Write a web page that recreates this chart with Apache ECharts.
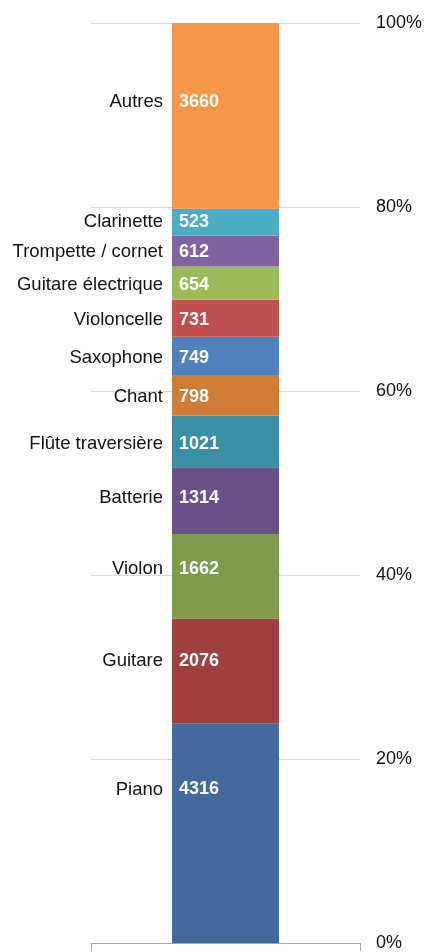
<!DOCTYPE html>
<html>
<head>
<meta charset="utf-8">
<script src="https://cdn.jsdelivr.net/npm/echarts@6/dist/echarts.min.js"></script>
<style>
  html, body { margin: 0; padding: 0; background: #fff; }
  #chart { width: 431px; height: 952px; }
</style>
</head>
<body>
<div id="chart"></div>
<script>
// instruments, du bas vers le haut de la colonne
const instruments = [
  "Piano", "Guitare", "Violon", "Batterie", "Flûte traversière", "Chant",
  "Saxophone", "Violoncelle", "Guitare électrique", "Trompette / cornet",
  "Clarinette", "Autres"
];
const effectifs = [4316, 2076, 1662, 1314, 1021, 798, 749, 731, 654, 612, 523, 3660];
const couleurs = [
  "#426A9C", "#A0403E", "#7F9A48", "#6A5189", "#3A8FA4", "#D07C37",
  "#4F81BD", "#C0504D", "#9BBB59", "#8064A2", "#4BACC6", "#F79646"
];
const pctTicks = [0, 20, 40, 60, 80, 100];
// décalage vertical des étiquettes (px), comme sur l'original
const decalage = [-44, -10, -7, -3, 3, 2, 2, 2, 2, 1, 0, -14];

const total = effectifs.reduce((a, b) => a + b, 0);

const chart = echarts.init(document.getElementById("chart"));

const series = [];
// colonne empilée (valeurs en %)
instruments.forEach((nom, i) => {
  series.push({
    name: nom,
    type: "bar",
    stack: "total",
    barWidth: 107,
    data: [effectifs[i] / total * 100],
    itemStyle: { color: couleurs[i] },
    label: {
      show: true,
      position: "insideLeft",
      distance: 7,
      offset: [0, decalage[i]],
      color: "#fff",
      fontFamily: "Liberation Sans, Arial",
      fontWeight: "bold",
      fontSize: 18,
      formatter: () => String(effectifs[i]),
    },
  });
});
// copie transparente pour les noms à gauche
instruments.forEach((nom, i) => {
  series.push({
    name: nom + "_lbl",
    type: "bar",
    stack: "noms",
    barWidth: 107,
    barGap: "-100%",
    silent: true,
    data: [effectifs[i] / total * 100],
    itemStyle: { color: "transparent" },
    label: {
      show: true,
      position: "left",
      distance: 9,
      offset: [0, decalage[i]],
      color: "#111",
      fontFamily: "Liberation Sans, Arial",
      fontSize: 18.5,
      formatter: nom,
    },
  });
});

const option = {
  animation: false,
  grid: { left: 91, right: 71, top: 23, bottom: 6 },
  xAxis: {
    type: "category",
    data: [""],
    axisLine: { lineStyle: { color: "#a6a6a6" } },
    axisTick: { show: true, length: 8, lineStyle: { color: "#a6a6a6" } },
    axisLabel: { show: false },
  },
  yAxis: {
    type: "value",
    position: "right",
    min: pctTicks[0],
    max: pctTicks[pctTicks.length - 1],
    interval: 20,
    axisLine: { show: false },
    axisTick: { show: false },
    axisLabel: {
      margin: 16,
      color: "#111",
      fontFamily: "Liberation Sans, Arial",
      fontSize: 18,
      formatter: "{value}%",
    },
    splitLine: { lineStyle: { color: "#d9d9d9" } },
  },
  series: series,
};

chart.setOption(option);
</script>
</body>
</html>
